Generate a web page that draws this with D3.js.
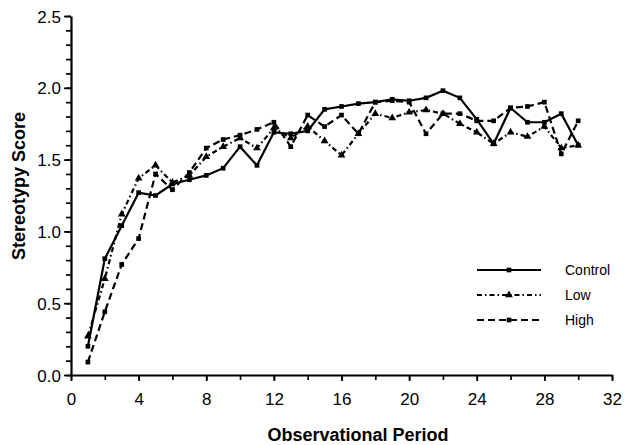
<!DOCTYPE html>
<html>
<head>
<meta charset="utf-8">
<script src="https://cdn.jsdelivr.net/npm/d3@7"></script>
<style>
  body { margin: 0; background: #fff; }
  text { font-family: "Liberation Sans", Arial, sans-serif; fill: #000; }
</style>
</head>
<body>
<div id="chart"></div>
<script>
// values
const periods = d3.range(1, 31);
const controlScores = [0.20, 0.81, 1.04, 1.27, 1.25, 1.33, 1.36, 1.39, 1.44, 1.59, 1.46, 1.69, 1.68, 1.70, 1.85,
                       1.87, 1.89, 1.90, 1.92, 1.91, 1.93, 1.98, 1.93, 1.78, 1.61, 1.86, 1.76, 1.76, 1.82, 1.60];
const lowScores = [0.27, 0.67, 1.12, 1.37, 1.46, 1.34, 1.39, 1.52, 1.59, 1.65, 1.58, 1.72, 1.65, 1.73, 1.63,
                   1.53, 1.68, 1.82, 1.79, 1.83, 1.845, 1.82, 1.75, 1.69, 1.61, 1.69, 1.66, 1.73, 1.58, 1.60];
const highScores = [0.09, 0.44, 0.77, 0.95, 1.40, 1.29, 1.41, 1.58, 1.64, 1.67, 1.71, 1.76, 1.59, 1.81, 1.73,
                    1.81, 1.68, 1.90, 1.91, 1.90, 1.68, 1.82, 1.82, 1.77, 1.77, 1.86, 1.87, 1.90, 1.54, 1.77];
const groupNames = ["Control", "Low", "High"];
const xTicks = [0, 4, 8, 12, 16, 20, 24, 28, 32];
const yTicks = [0.0, 0.5, 1.0, 1.5, 2.0, 2.5];

const groups = [
    { name: groupNames[0], values: controlScores, dash: null, marker: d3.symbolSquare },
    { name: groupNames[1], values: lowScores, dash: "5,3,1.5,3", marker: d3.symbolTriangle },
    { name: groupNames[2], values: highScores, dash: "7,4", marker: d3.symbolSquare }
];

const svg = d3.select("#chart")
    .append("svg")
        .attr("width", 625)
        .attr("height", 445);

const x = d3.scaleLinear().domain([0, 32]).range([71, 612]);
const y = d3.scaleLinear().domain([0, 2.5]).range([375, 16]);

// minor ticks first, then the labelled axis on top
svg.append("g")
    .attr("transform", "translate(0,375)")
    .call(d3.axisBottom(x).tickValues(d3.range(0, 33, 2)).tickSize(5).tickFormat(""))
    .call(g => g.select(".domain").remove());
svg.append("g")
    .attr("transform", "translate(71,0)")
    .call(d3.axisLeft(y).tickValues(d3.range(0, 2.51, 0.1)).tickSize(5).tickFormat(""))
    .call(g => g.select(".domain").remove());

const xAxis = svg.append("g")
    .attr("transform", "translate(0,375)")
    .call(d3.axisBottom(x).tickValues(xTicks).tickSize(6).tickSizeOuter(0).tickPadding(12));
const yAxis = svg.append("g")
    .attr("transform", "translate(71,0)")
    .call(d3.axisLeft(y).tickValues(yTicks).tickFormat(d3.format(".1f")).tickSize(7).tickSizeOuter(0).tickPadding(3));

svg.selectAll(".tick line").attr("stroke", "#000").attr("stroke-width", 1.7);
svg.selectAll(".domain").attr("stroke", "#000").attr("stroke-width", 2.2);
svg.selectAll(".tick text")
    .style("font-family", "'Liberation Sans', Arial, sans-serif")
    .style("font-size", "17px")
    .attr("fill", "#000");
yAxis.selectAll(".tick text").attr("dy", "0.36em");

// axis titles
svg.append("text")
    .attr("x", 358)
    .attr("y", 441)
    .attr("text-anchor", "middle")
    .style("font-size", "18px")
    .style("font-weight", "bold")
    .text("Observational Period");
svg.append("text")
    .attr("transform", "translate(25,186) rotate(-90)")
    .attr("text-anchor", "middle")
    .style("font-size", "18px")
    .style("font-weight", "bold")
    .text("Stereotypy  Score");

const line = d3.line()
    .x((d, i) => x(periods[i]))
    .y(d => y(d));

const markerSize = m => m === d3.symbolTriangle ? 26 : 22;

groups.forEach(group => {
    svg.append("path")
        .datum(group.values)
        .attr("d", line)
        .attr("fill", "none")
        .attr("stroke", "#000")
        .attr("stroke-width", 2.2)
        .attr("stroke-dasharray", group.dash);

    svg.selectAll(null)
        .data(group.values)
        .enter()
        .append("path")
            .attr("d", d3.symbol().type(group.marker).size(markerSize(group.marker)))
            .attr("transform", (d, i) => "translate(" + x(periods[i]) + "," + y(d) + ")")
            .attr("fill", "#000");
});

// legend
const legend = svg.append("g");
groups.forEach((group, i) => {
    const ly = 270 + i * 25;
    legend.append("line")
        .attr("x1", 477).attr("x2", 541)
        .attr("y1", ly).attr("y2", ly)
        .attr("stroke", "#000")
        .attr("stroke-width", 2.2)
        .attr("stroke-dasharray", group.dash);
    legend.append("path")
        .attr("d", d3.symbol().type(group.marker).size(markerSize(group.marker)))
        .attr("transform", "translate(509," + ly + ")")
        .attr("fill", "#000");
    legend.append("text")
        .attr("x", 565)
        .attr("y", ly)
        .attr("dy", "0.36em")
        .style("font-size", "14px")
        .text(group.name);
});
</script>
</body>
</html>
